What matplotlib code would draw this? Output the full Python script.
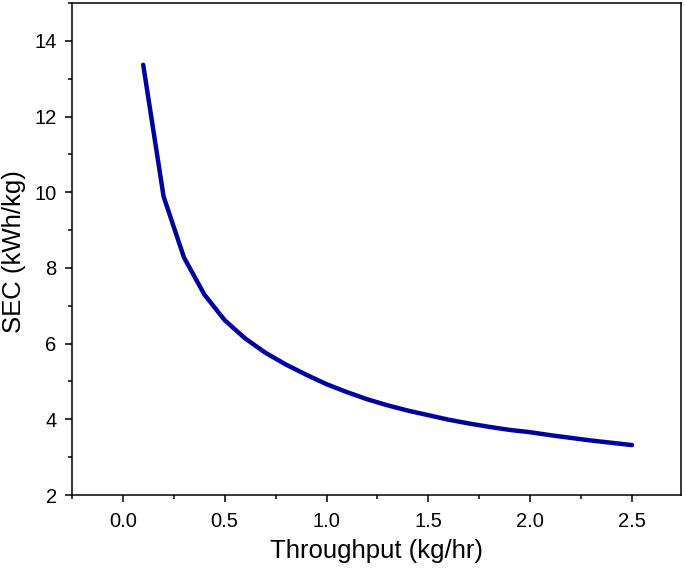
import matplotlib
matplotlib.use('Agg')
import matplotlib.pyplot as plt
from matplotlib.ticker import MultipleLocator

plt.rcParams['font.family'] = ['Liberation Sans', 'DejaVu Sans']

# Throughput (kg/hr) and specific energy consumption (kWh/kg)
throughput = [0.1, 0.2, 0.3, 0.4, 0.5, 0.6, 0.7, 0.8, 0.9, 1.0,
              1.1, 1.2, 1.3, 1.4, 1.5, 1.6, 1.7, 1.8, 1.9, 2.0,
              2.1, 2.2, 2.3, 2.4, 2.5]
sec = [13.37, 9.89, 8.28, 7.30, 6.62, 6.14, 5.76, 5.45, 5.18, 4.93,
       4.72, 4.53, 4.37, 4.23, 4.11, 3.99, 3.89, 3.80, 3.72, 3.66,
       3.58, 3.51, 3.44, 3.38, 3.32]

fig = plt.figure(figsize=(6.85, 5.74), dpi=100)
ax = fig.add_axes([0.105, 0.1376, 0.889, 0.857])

ax.plot(throughput, sec, color='#00009c', linewidth=3.2, solid_capstyle='round')

ax.set_xlim(-0.25, 2.74)
ax.set_ylim(2, 15)
ax.xaxis.set_major_locator(MultipleLocator(0.5))
ax.xaxis.set_minor_locator(MultipleLocator(0.25))
ax.yaxis.set_major_locator(MultipleLocator(2))
ax.yaxis.set_minor_locator(MultipleLocator(1))
ax.set_yticks([2, 4, 6, 8, 10, 12, 14])

ax.tick_params(which='both', direction='out', top=False, right=False, width=1.1, labelsize=14.5)
ax.tick_params(which='major', length=5)
ax.tick_params(which='minor', length=3)
ax.tick_params(axis='x', which='major', pad=7)
ax.tick_params(axis='y', which='major', pad=6)
for s in ax.spines.values():
    s.set_linewidth(1.1)

ax.set_xlabel('Throughput (kg/hr)', fontsize=18.5, labelpad=6)
ax.set_ylabel('SEC (kWh/kg)', fontsize=18.5, va='center')
ax.yaxis.set_label_coords(-0.095, 0.494)

fig.savefig('out.png', dpi=100)
